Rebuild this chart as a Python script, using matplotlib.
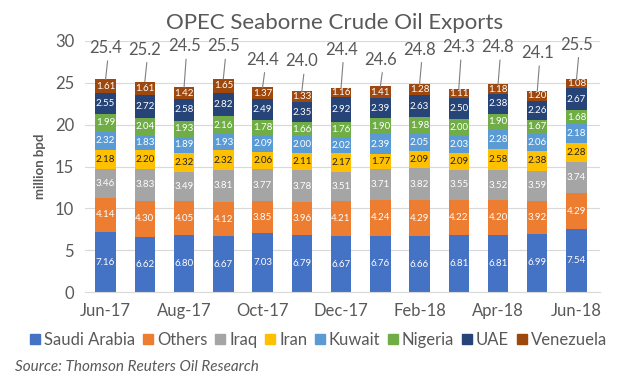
import numpy as np
import matplotlib
matplotlib.use('Agg')
import matplotlib.pyplot as plt
import matplotlib.patches as mpatches

# ── Data ──────────────────────────────────────────────────────────────────────
months = ['Jun-17', 'Jul-17', 'Aug-17', 'Sep-17', 'Oct-17', 'Nov-17', 'Dec-17',
          'Jan-18', 'Feb-18', 'Mar-18', 'Apr-18', 'May-18', 'Jun-18']
saudi     = [7.16, 6.62, 6.80, 6.67, 7.03, 6.79, 6.67, 6.76, 6.66, 6.81, 6.81, 6.99, 7.54]
others    = [4.14, 4.30, 4.05, 4.12, 3.85, 3.96, 4.21, 4.24, 4.29, 4.22, 4.20, 3.92, 4.29]
iraq      = [3.46, 3.83, 3.49, 3.81, 3.77, 3.78, 3.51, 3.71, 3.82, 3.55, 3.52, 3.59, 3.74]
iran      = [2.18, 2.20, 2.32, 2.32, 2.06, 2.11, 2.17, 1.77, 2.09, 2.09, 2.58, 2.38, 2.28]
kuwait    = [2.32, 1.83, 1.89, 1.93, 2.09, 2.00, 2.02, 2.39, 2.05, 2.03, 2.28, 2.06, 2.18]
nigeria   = [1.99, 2.04, 1.93, 2.16, 1.78, 1.66, 1.76, 1.90, 1.98, 2.00, 1.90, 1.67, 1.68]
uae       = [2.55, 2.72, 2.58, 2.82, 2.49, 2.35, 2.92, 2.39, 2.63, 2.50, 2.38, 2.26, 2.67]
venezuela = [1.61, 1.61, 1.42, 1.65, 1.37, 1.33, 1.16, 1.41, 1.28, 1.11, 1.18, 1.20, 1.08]
totals    = [25.4, 25.2, 24.5, 25.5, 24.4, 24.0, 24.4, 24.6, 24.8, 24.3, 24.8, 24.1, 25.5]

series = [
    ('Saudi Arabia', saudi,     '#4472C4', 'white'),
    ('Others',       others,    '#ED7D31', 'white'),
    ('Iraq',         iraq,      '#A5A5A5', 'white'),
    ('Iran',         iran,      '#FFC000', '#222222'),
    ('Kuwait',       kuwait,    '#5B9BD5', 'white'),
    ('Nigeria',      nigeria,   '#70AD47', 'white'),
    ('UAE',          uae,       '#264478', 'white'),
    ('Venezuela',    venezuela, '#9E480E', 'white'),
]

# layout: height (data units) where each total label sits
total_label_y = [28.2, 28.0, 28.4, 28.4, 26.8, 26.6, 28.0, 26.8, 28.0, 28.3, 28.3, 27.6, 28.6]

FONT = 'Lato'
GREY = '#595959'

# ── Plot ──────────────────────────────────────────────────────────────────────
fig = plt.figure(figsize=(6.31, 3.90), dpi=100)
ax = fig.add_axes([0.135, 0.251, 0.816, 0.644])

x = np.arange(len(months))
bottom = np.zeros(len(months))
for name, vals, col, tcol in series:
    vals = np.array(vals)
    ax.bar(x, vals, 0.52, bottom=bottom, color=col, label=name, zorder=2)
    for xi, b, v in zip(x, bottom, vals):
        ax.text(xi, b + v / 2, f'{v:.2f}', ha='center', va='center',
                fontsize=7, color=tcol, family=FONT, zorder=3)
    bottom += vals

# totals with leader lines
for xi, top, t, ly in zip(x, bottom, totals, total_label_y):
    ax.plot([xi, xi + 0.05], [top, ly - 0.6], color='#7f7f7f', lw=0.8, zorder=3)
    ax.text(xi, ly, f'{t:.1f}', ha='center', va='bottom', fontsize=12,
            color=GREY, family=FONT)

ax.set_xlim(-0.52, 12.6)
ax.set_ylim(0, 30)
ax.set_yticks(range(0, 31, 5))
ax.set_xticks(x[::2])
ax.set_xticklabels(months[::2])
ax.yaxis.grid(True, color='#d9d9d9', lw=0.8, zorder=0)
ax.set_axisbelow(True)
for s in ['top', 'right', 'left']:
    ax.spines[s].set_visible(False)
ax.spines['bottom'].set_color('#d9d9d9')
ax.tick_params(length=0, labelsize=12, colors=GREY, pad=8)
for lab in ax.get_xticklabels() + ax.get_yticklabels():
    lab.set_family(FONT)
ax.set_ylabel('million bpd', fontsize=9.5, color=GREY, fontweight='bold',
              family=FONT, labelpad=6)

fig.text(0.53, 0.94, 'OPEC Seaborne Crude Oil Exports', ha='center', va='center',
         fontsize=16, color=GREY, family=FONT)

handles = [mpatches.Patch(color=c, label=n) for n, _, c, _ in series]
leg = fig.legend(handles=handles, loc='center', bbox_to_anchor=(0.505, 0.128), ncol=8,
                 frameon=False, handlelength=0.6, handleheight=0.6, handletextpad=0.25,
                 columnspacing=0.45, prop={'family': FONT, 'size': 12})
for t in leg.get_texts():
    t.set_color(GREY)

fig.text(0.024, 0.058, 'Source: Thomson Reuters Oil Research', ha='left', va='center',
         fontsize=11, color=GREY, style='italic', family=FONT)

fig.savefig('out.png', dpi=100)
